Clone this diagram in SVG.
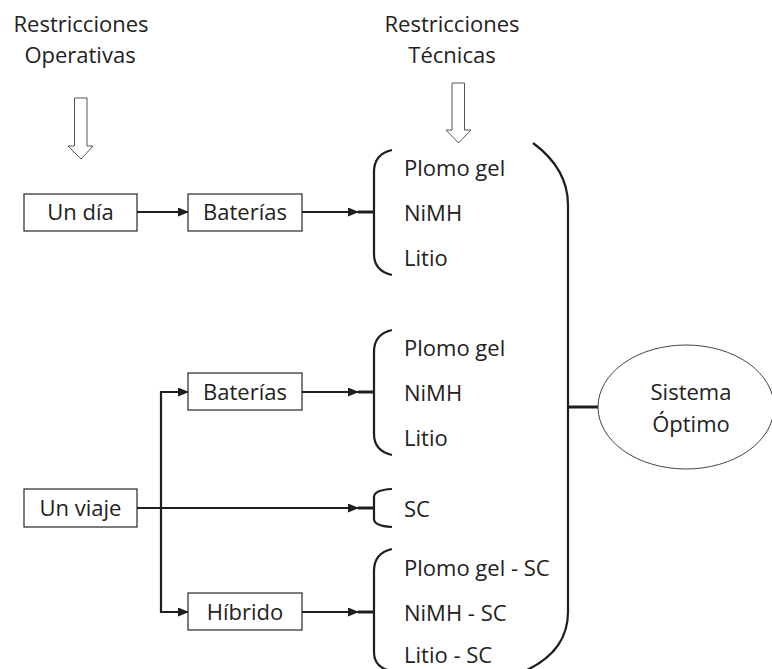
<svg xmlns="http://www.w3.org/2000/svg" width="772" height="669" viewBox="0 0 772 669">
<defs>
<style>
text{font-family:"Open Sans","Liberation Sans",sans-serif;font-size:22px;fill:#222}
.c{text-anchor:middle}
.box{fill:#fff;stroke:#262626;stroke-width:1.2}
.ln{fill:none;stroke:#1e1e1e;stroke-width:2.2}
.br{fill:none;stroke:#1e1e1e;stroke-width:2.2}
.tk{fill:none;stroke:#1e1e1e;stroke-width:3}
.hollow{fill:#fff;stroke:#555;stroke-width:1}
</style>
<marker id="ah" markerUnits="userSpaceOnUse" markerWidth="11" markerHeight="10" refX="10" refY="4.5" orient="auto">
<path d="M0,0 L11,4.5 L0,9 z" fill="#1e1e1e"/>
</marker>
</defs>
<rect width="772" height="669" fill="#fff"/>

<g id="label-operativas">
<text class="c" x="81" y="32">Restricciones</text>
<text class="c" x="80" y="63">Operativas</text>
<path class="hollow" d="M74.5,98 H87 V146 H93 L81,159 L68,146 H74.5 Z"/>
</g>
<g id="label-tecnicas">
<text class="c" x="452" y="32">Restricciones</text>
<text class="c" x="452" y="63">Técnicas</text>
<path class="hollow" d="M452,83 H464.5 V130 H471 L458.5,143 L446,130 H452 Z"/>
</g>

<g id="connectors">
<line class="ln" x1="137" y1="212" x2="188" y2="212" marker-end="url(#ah)"/>
<line class="ln" x1="302" y1="212" x2="358" y2="212" marker-end="url(#ah)"/>
<line class="ln" x1="137" y1="508" x2="358" y2="508" marker-end="url(#ah)"/>
<path class="ln" d="M161,508 V392 H188" marker-end="url(#ah)"/>
<path class="ln" d="M161,508 V612 H188" marker-end="url(#ah)"/>
<line class="ln" x1="302" y1="392" x2="358" y2="392" marker-end="url(#ah)"/>
<line class="ln" x1="302" y1="612" x2="358" y2="612" marker-end="url(#ah)"/>
<line class="tk" x1="568" y1="407" x2="600" y2="407"/>
</g>

<g id="node-un-dia">
<rect class="box" x="24" y="194" width="113" height="37"/>
<text class="c" x="80.5" y="220">Un día</text>
</g>
<g id="node-baterias-1">
<rect class="box" x="188" y="194" width="114" height="37"/>
<text class="c" x="245" y="220">Baterías</text>
</g>
<g id="node-un-viaje">
<rect class="box" x="24" y="489" width="113" height="38"/>
<text class="c" x="80.5" y="516">Un viaje</text>
</g>
<g id="node-baterias-2">
<rect class="box" x="188" y="373" width="114" height="37"/>
<text class="c" x="245" y="400">Baterías</text>
</g>
<g id="node-hibrido">
<rect class="box" x="188" y="593" width="114" height="37"/>
<text class="c" x="245" y="620">Híbrido</text>
</g>

<g id="group-1">
<path class="br" d="M392,150 Q374,154 374,172 V254 Q374,271 392,275"/>
<path class="tk" d="M358,212 H374"/>
<text x="404" y="176">Plomo gel</text>
<text x="404" y="221">NiMH</text>
<text x="404" y="266">Litio</text>
</g>
<g id="group-2">
<path class="br" d="M392,330 Q374,334 374,352 V434 Q374,451 392,455"/>
<path class="tk" d="M358,392 H374"/>
<text x="404" y="356">Plomo gel</text>
<text x="404" y="401">NiMH</text>
<text x="404" y="446">Litio</text>
</g>
<g id="group-sc">
<path class="br" d="M392,489 Q374,490 374,497 V519 Q374,526 392,527"/>
<path class="tk" d="M358,508 H374"/>
<text x="404" y="517">SC</text>
</g>
<g id="group-3">
<path class="br" d="M392,549 Q374,553 374,571 V652 Q374,668 392,671"/>
<path class="tk" d="M358,612 H374"/>
<text x="404" y="576">Plomo gel - SC</text>
<text x="404" y="621">NiMH - SC</text>
<text x="404" y="663">Litio - SC</text>
</g>

<g id="big-brace">
<path class="br" d="M533,143 C556,160 568,180 568,205 V612 C568,640 552,658 527,670"/>
</g>

<g id="node-sistema-optimo">
<ellipse cx="686" cy="407" rx="88" ry="62" fill="#fff" stroke="#444" stroke-width="1"/>
<text class="c" x="691" y="400">Sistema</text>
<text class="c" x="691" y="432">Óptimo</text>
</g>
</svg>
